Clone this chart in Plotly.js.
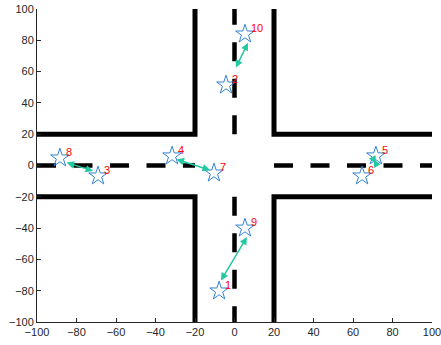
<!DOCTYPE html>
<html>
<head>
<meta charset="utf-8">
<script src="https://cdn.plot.ly/plotly-3.0.1.min.js"></script>
<style>html,body{margin:0;padding:0;background:#fff;}#chart{width:441px;height:345px;}</style>
</head>
<body>
<div id="chart"></div>
<script>
// Vehicle (star) positions and labels
const labels = ['1','2','3','4','5','6','7','8','9','10'];
const px = [-7.8, -4.3, -69.1, -31.6, 71.6, 64.6, -10.4, -88.4, 5.3, 5.3];
const py = [-80.2, 51.4, -6.7, 6.1, 6.1, -6.7, -4.8, 4.8, -40.0, 84.0];

// Double arrows between pairs (start x/y, end x/y)
const arrX0 = [-85.8, -30.1, 0.3, -7.3, 72.0];
const arrY0 = [2.2, 4.2, 61.6, -74.4, 0.3];
const arrX1 = [-71.6, -12.4, 6.8, 6.3, 70.5];
const arrY1 = [-3.5, -2.9, 78.3, -45.7, 3.8];

// Road edges (L-shaped borders)
const roadX = [[-100,-20,-20],[20,20,100],[-100,-20,-20],[20,20,100]];
const roadY = [[20,20,100],[100,20,20],[-20,-20,-100],[-100,-20,-20]];
// Centre (lane) lines, drawn outside the junction only
const laneX = [[-100,-20],[20,100],[0,0],[0,0]];
const laneY = [[0,0],[0,0],[20,100],[-20,-100]];

const ticks = [-100,-80,-60,-40,-20,0,20,40,60,80,100];

const traces = [];
roadX.forEach((rx, i) => traces.push({
  x: rx, y: roadY[i], mode: 'lines', type: 'scatter',
  line: {color: '#000', width: 5}, hoverinfo: 'skip', showlegend: false
}));
laneX.forEach((lx, i) => traces.push({
  x: lx, y: laneY[i], mode: 'lines', type: 'scatter',
  line: {color: '#000', width: 4.5, dash: '19px,17.5px'}, hoverinfo: 'skip', showlegend: false
}));
traces.push({
  x: px, y: py, mode: 'markers', type: 'scatter',
  marker: {symbol: 'star-open', size: 14, color: '#3282d2', line: {width: 1, color: '#3282d2'}},
  showlegend: false
});

const annotations = arrX0.map((x0, i) => ({
  x: arrX1[i], y: arrY1[i], ax: x0, ay: arrY0[i],
  xref: 'x', yref: 'y', axref: 'x', ayref: 'y',
  showarrow: true, arrowhead: 2, startarrowhead: 2, arrowside: 'end+start',
  arrowsize: 1, startarrowsize: 1, arrowwidth: 1.5, arrowcolor: '#22c9a0', text: ''
}));
labels.forEach((t, i) => annotations.push({
  x: px[i], y: py[i], xref: 'x', yref: 'y', text: t, showarrow: false,
  xanchor: 'left', yanchor: 'middle', xshift: 4, yshift: 6,
  font: {color: '#ff0000', size: 11, family: 'Liberation Sans, Arial, sans-serif'}
}));

const axisCommon = {
  range: [-100, 100], tickvals: ticks, ticks: 'inside', ticklen: 4, tickwidth: 1,
  tickcolor: '#262626', showline: true, linecolor: '#262626', linewidth: 1,
  showgrid: false, zeroline: false, mirror: false, ticklabeloverflow: 'allow',
  tickfont: {family: 'Liberation Sans, Arial, sans-serif', size: 11, color: '#262626'}
};

Plotly.newPlot('chart', traces, {
  width: 441, height: 345,
  margin: {l: 37, r: 9, t: 9, b: 23},
  paper_bgcolor: '#fff', plot_bgcolor: '#fff',
  xaxis: Object.assign({}, axisCommon),
  yaxis: Object.assign({}, axisCommon),
  annotations: annotations,
  showlegend: false
}, {displayModeBar: false, staticPlot: true});
</script>
</body>
</html>
